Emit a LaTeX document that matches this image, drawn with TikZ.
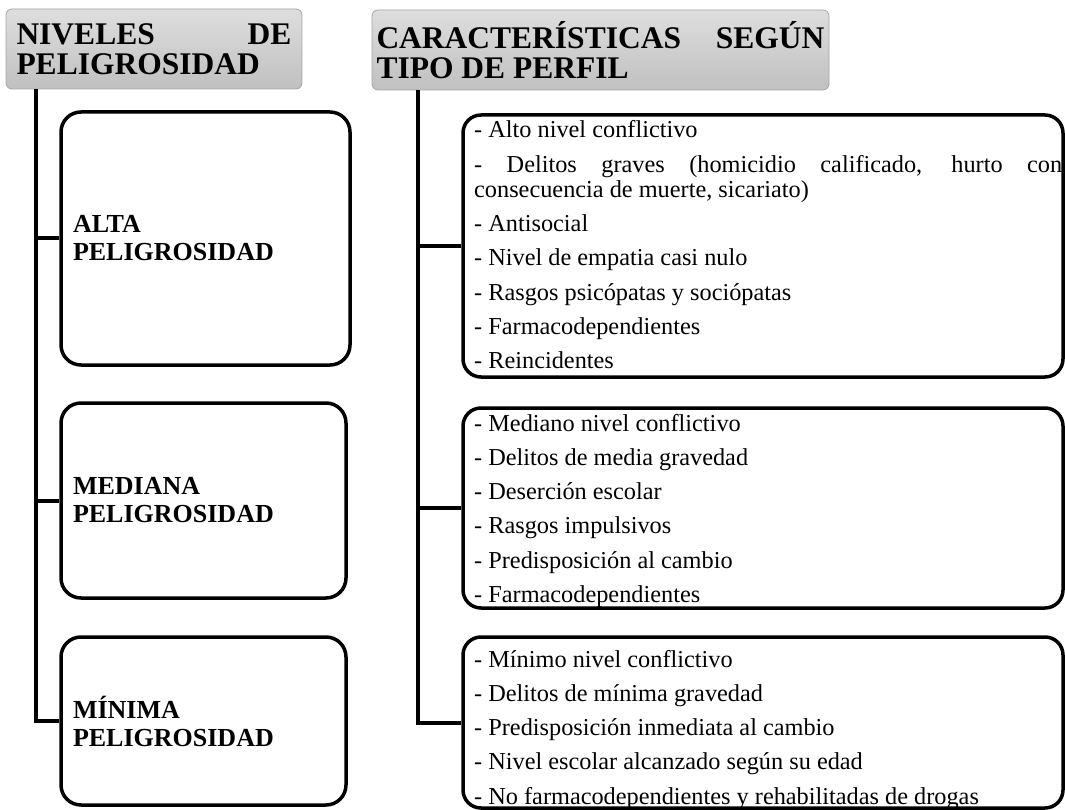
\documentclass[tikz,border=0pt]{standalone}
\usepackage{fontspec}
\setmainfont{Liberation Serif}
\usetikzlibrary{calc}
\hyphenpenalty=10000
\exhyphenpenalty=10000
\tolerance=10000
\hbadness=10000
\hfuzz=50pt
\newcommand\hdrfont{\fontsize{31.5}{30}\selectfont\bfseries\spaceskip=0.25em plus 2em\relax}
\newcommand\lvlfont{\fontsize{26}{28}\selectfont\bfseries}
\newcommand\bodyfont{\fontsize{24.3}{25}\selectfont\spaceskip=0.25em plus 1.5em\relax}
\definecolor{hdrtop}{RGB}{222,222,222}
\definecolor{hdrbot}{RGB}{192,192,192}
\definecolor{hdrline}{RGB}{165,165,165}
\tikzset{
  hdr/.style={draw=hdrline, line width=0.8pt, rounded corners=6pt,
    top color=hdrtop, bottom color=hdrbot, inner ysep=0pt, align=justify, font=\hdrfont},
  lbox/.style={draw, line width=3.5pt, rounded corners=20pt, align=left,
    font=\lvlfont, inner xsep=12pt, inner ysep=0pt},
  rbox/.style={draw, line width=3.5pt, rounded corners=18pt, inner sep=0pt},
  conn/.style={line width=4pt},
  ctext/.style={anchor=base west, inner sep=0pt, text width=588pt, align=justify, font=\bodyfont}
}
\begin{document}
\begin{tikzpicture}[x=1pt,y=-1pt]
\useasboundingbox (0,0) rectangle (1065,810);
% headers
\node[hdr, minimum width=296pt, minimum height=80pt, text width=275pt] (hL) at (154,49)
  {NIVELES DE PELIGROSIDAD};
\node[hdr, minimum width=457pt, minimum height=80pt, text width=448pt] (hR) at (600.5,50)
  {CARACTERÍSTICAS SEGÚN TIPO DE PERFIL};
% level boxes
\node[lbox, minimum width=289pt, minimum height=253pt, text width=265pt] (alta) at (205.5,238.5)
  {ALTA\\PELIGROSIDAD};
\node[lbox, minimum width=285pt, minimum height=195pt, text width=261pt] (mediana) at (203.5,500.5)
  {MEDIANA\\PELIGROSIDAD};
\node[lbox, minimum width=285pt, minimum height=168pt, text width=261pt] (minima) at (203.5,721)
  {MÍNIMA\\PELIGROSIDAD};
% characteristic boxes
\node[rbox, minimum width=600pt, minimum height=262pt] (c1) at (763,246) {};
\node[rbox, minimum width=600pt, minimum height=200pt] (c2) at (763,508) {};
\node[rbox, minimum width=600pt, minimum height=171pt] (c3) at (763,722.5) {};
\node[ctext] (t1) at (474,138) {\setlength{\parskip}{9.3pt}%
- Alto nivel conflictivo\par
- Delitos graves (homicidio calificado, hurto con consecuencia de muerte, sicariato)\par
- Antisocial\par
- Nivel de empatia casi nulo\par
- Rasgos psicópatas y sociópatas\par
- Farmacodependientes\par
- Reincidentes};
\node[ctext] (t2) at (474,431) {\setlength{\parskip}{9.3pt}%
- Mediano nivel conflictivo\par
- Delitos de media gravedad\par
- Deserción escolar\par
- Rasgos impulsivos\par
- Predisposición al cambio\par
- Farmacodependientes};
\node[ctext] (t3) at (474,667) {\setlength{\parskip}{9.3pt}%
- Mínimo nivel conflictivo\par
- Delitos de mínima gravedad\par
- Predisposición inmediata al cambio\par
- Nivel escolar alcanzado según su edad\par
- No farmacodependientes y rehabilitadas de drogas};
% connectors
\draw[conn] ([xshift=30pt]hL.south west) |- (alta.west);
\draw[conn] ([xshift=30pt]hL.south west) |- (mediana.west);
\draw[conn] ([xshift=30pt]hL.south west) |- (minima.west);
\draw[conn] ([xshift=46pt]hR.south west) |- (c1.west);
\draw[conn] ([xshift=46pt]hR.south west) |- (c2.west);
\draw[conn] ([xshift=46pt]hR.south west) |- (c3.west);
\end{tikzpicture}
\end{document}
